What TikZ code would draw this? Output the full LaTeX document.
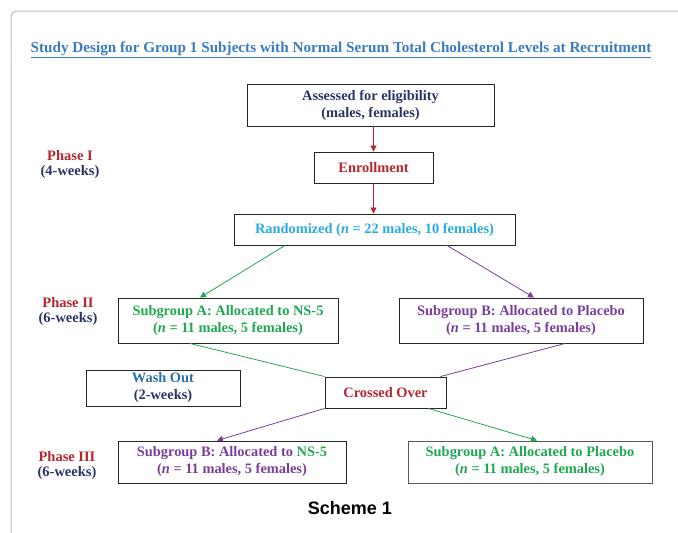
\documentclass[tikz,border=0pt]{standalone}
\usepackage{fontspec}
\setmainfont{Liberation Serif}
\newfontfamily\schemefont{Liberation Sans}
\usetikzlibrary{arrows.meta}
\definecolor{navy}{RGB}{43,52,103}
\definecolor{dred}{RGB}{181,38,47}
\definecolor{cyanT}{RGB}{41,171,226}
\definecolor{greenT}{RGB}{30,168,80}
\definecolor{purpleT}{RGB}{122,62,157}
\definecolor{titleblue}{RGB}{59,123,196}
\definecolor{washblue}{RGB}{44,111,170}
\definecolor{framegray}{RGB}{190,190,190}
\begin{document}
\begin{tikzpicture}[x=1pt,y=-1pt,
  box/.style={draw=black!85,line width=0.9pt,inner sep=0pt,align=center,font=\bfseries\fontsize{14.4}{17}\selectfont},
  lbl/.style={inner sep=0pt,align=center,font=\bfseries\fontsize{14.5}{15}\selectfont},
  arr/.style={line width=0.8pt,-{Triangle[length=6pt,width=6pt]}},
  ln/.style={line width=0.8pt}]
\useasboundingbox (0,0) rectangle (678,533);
\draw[framegray,line width=1pt,rounded corners=6pt] (11,533) -- (11,11) -- (678,11);
\node[inner sep=0pt,text=titleblue,font=\bfseries\fontsize{15.2}{16}\selectfont] (title) at (341,50) {\underline{Study Design for Group 1 Subjects with Normal Serum Total Cholesterol Levels at Recruitment}};
\node[box,minimum width=247,minimum height=42,text=navy] (assess) at (370.5,105) {Assessed for eligibility\\(males, females)};
\node[box,minimum width=119,minimum height=31,text=dred] (enroll) at (373.5,167.5) {Enrollment};
\node[box,minimum width=281,minimum height=31,text=cyanT] (rand) at (374.5,229.5) {Randomized (\textit{n} = 22 males, 10 females)};
\node[box,minimum width=220,minimum height=45,text=greenT] (sa2) at (228,320.5) {Subgroup A: Allocated to NS-5\\(\textit{n} = 11 males, 5 females)};
\node[box,minimum width=244,minimum height=45,text=purpleT] (sb2) at (521,320.5) {Subgroup B: Allocated to Placebo\\(\textit{n} = 11 males, 5 females)};
\node[box,minimum width=154,minimum height=36,text=navy] (wash) at (163,388) {\textcolor{washblue}{Wash Out}\\(2-weeks)};
\node[box,minimum width=121,minimum height=31,text=dred] (cross) at (385.5,392.5) {Crossed Over};
\node[box,minimum width=228,minimum height=42,text=purpleT] (sb3) at (232,462) {Subgroup B: Allocated to \textcolor{greenT}{NS-5}\\(\textit{n} = 11 males, 5 females)};
\node[box,draw=black!65,minimum width=244,minimum height=42,text=greenT] (sa3) at (530,462) {Subgroup A: Allocated to Placebo\\(\textit{n} = 11 males, 5 females)};
\node[lbl] (p1) at (70,165) {\textcolor{dred}{Phase I}\\\textcolor{navy}{(4-weeks)}};
\node[lbl] (p2) at (68,312) {\textcolor{dred}{Phase II}\\\textcolor{navy}{(6-weeks)}};
\node[lbl] (p3) at (67,466) {\textcolor{dred}{Phase III}\\\textcolor{navy}{(6-weeks)}};
\node[inner sep=0pt,font=\schemefont\bfseries\fontsize{18}{20}\selectfont] (scheme) at (350,508) {Scheme 1};
\draw[arr,dred] (assess.south -| enroll) -- (enroll.north);
\draw[arr,dred] (enroll.south) -- (rand.north -| enroll);
\draw[arr,greenT] ([xshift=-89.5pt]rand.south) -- ([xshift=-28pt]sa2.north);
\draw[arr,purpleT] ([xshift=72.5pt]rand.south) -- ([xshift=13pt]sb2.north);
\draw[ln,greenT] ([xshift=-38pt]sa2.south) -- (cross.north west);
\draw[ln,purpleT] ([xshift=44pt]sb2.south) -- ([xshift=-6pt]cross.north east);
\draw[arr,purpleT] (cross.south west) -- ([xshift=-15pt]sb3.north);
\draw[arr,greenT] ([xshift=-18pt]cross.south east) -- ([xshift=7pt]sa3.north);
\end{tikzpicture}
\end{document}
